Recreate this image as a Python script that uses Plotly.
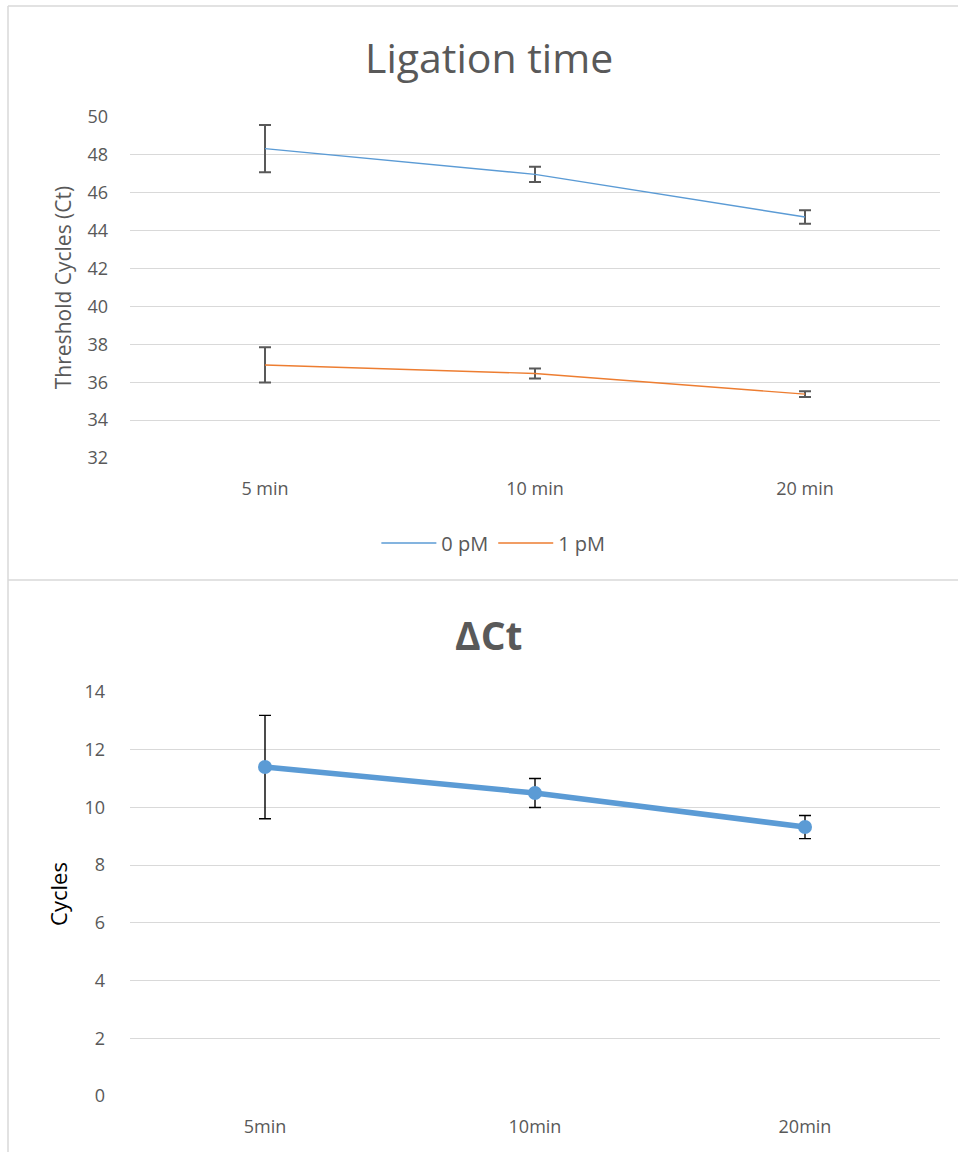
import plotly.graph_objects as go

W, H = 958, 1152

categories_top = ["5 min", "10 min", "20 min"]
ct_0pM = [48.33, 46.97, 44.72]
ct_0pM_err = [1.25, 0.40, 0.36]
ct_1pM = [36.91, 36.46, 35.37]
ct_1pM_err = [0.93, 0.26, 0.15]

categories_bottom = ["5min", "10min", "20min"]
delta_ct = [11.40, 10.50, 9.32]
delta_ct_err = [1.79, 0.50, 0.40]

FONT = "Open Sans"
GRAY = "#595959"
GRID = "#d9d9d9"

def py(px):
    return 1 - px / H

def pxx(px):
    return px / W

fig = go.Figure()

fig.add_trace(go.Scatter(
    x=categories_top, y=ct_0pM, name="0 pM", mode="lines",
    line=dict(color="#5B9BD5", width=1.4),
    error_y=dict(type="data", array=ct_0pM_err, color=GRAY, thickness=2, width=6),
    xaxis="x", yaxis="y"))
fig.add_trace(go.Scatter(
    x=categories_top, y=ct_1pM, name="1 pM", mode="lines",
    line=dict(color="#ED7D31", width=1.4),
    error_y=dict(type="data", array=ct_1pM_err, color=GRAY, thickness=2, width=6),
    xaxis="x", yaxis="y"))
fig.add_trace(go.Scatter(
    x=categories_bottom, y=delta_ct, name="ΔCt", mode="lines+markers",
    line=dict(color="#5B9BD5", width=5.5),
    marker=dict(color="#5B9BD5", size=14),
    error_y=dict(type="data", array=delta_ct_err, color="black", thickness=1.4, width=6),
    showlegend=False, xaxis="x2", yaxis="y2"))

tickfont = dict(family=FONT, size=18, color=GRAY)

fig.update_layout(
    width=W, height=H, autosize=False,
    margin=dict(l=0, r=0, t=0, b=0, pad=0, autoexpand=False),
    paper_bgcolor="white", plot_bgcolor="white",
    font=dict(family=FONT, color=GRAY),
    xaxis=dict(domain=[pxx(130), pxx(940)], anchor="y", type="category", automargin=False,
               showgrid=False, showline=False, ticks="", tickfont=tickfont,
               ticklabelstandoff=18, range=[-0.5, 2.5]),
    yaxis=dict(domain=[py(458), py(117)], anchor="x", range=[32, 50], dtick=2, automargin=False,
               showgrid=True, gridcolor=GRID, gridwidth=1.3, zeroline=False,
               showline=False, ticks="", tickfont=tickfont, ticklabelstandoff=21,
               title=dict(text="Threshold Cycles (Ct)", font=dict(family=FONT, size=21, color=GRAY), standoff=10)),
    xaxis2=dict(domain=[pxx(130), pxx(940)], anchor="y2", type="category", automargin=False,
                showgrid=False, showline=False, ticks="", tickfont=tickfont,
                ticklabelstandoff=18, range=[-0.5, 2.5]),
    yaxis2=dict(domain=[py(1096), py(692)], anchor="x2", range=[0, 14], dtick=2, automargin=False,
                showgrid=True, gridcolor=GRID, gridwidth=1.3, zeroline=False,
                showline=False, ticks="", tickfont=tickfont, ticklabelstandoff=24,
                title=dict(text="Cycles", font=dict(family=FONT, size=22, color="black"), standoff=10)),
    legend=dict(orientation="h", x=0.515, y=py(543), xanchor="center", yanchor="middle",
                itemwidth=55, font=dict(family=FONT, size=20, color=GRAY)),
    annotations=[
        dict(text="Ligation time", x=0.51, y=py(57), xref="paper", yref="paper",
             showarrow=False, xanchor="center", yanchor="middle",
             font=dict(family=FONT, size=41, color=GRAY)),
        dict(text="<b>ΔCt</b>", x=0.51, y=py(634), xref="paper", yref="paper",
             showarrow=False, xanchor="center", yanchor="middle",
             font=dict(family=FONT, size=39, color=GRAY)),
    ],
    shapes=[
        dict(type="line", xref="paper", yref="paper", x0=pxx(8), x1=1, y0=py(6), y1=py(6),
             line=dict(color=GRID, width=1.5)),
        dict(type="line", xref="paper", yref="paper", x0=pxx(8), x1=pxx(8), y0=py(6), y1=0,
             line=dict(color=GRID, width=1.5)),
        dict(type="line", xref="paper", yref="paper", x0=pxx(8), x1=1, y0=py(580), y1=py(580),
             line=dict(color=GRID, width=1.5)),
    ],
)

fig.write_html("out.html", config={"displayModeBar": False},
               post_script="document.body.style.margin='0';document.body.style.padding='0';document.documentElement.style.overflow='hidden';")
